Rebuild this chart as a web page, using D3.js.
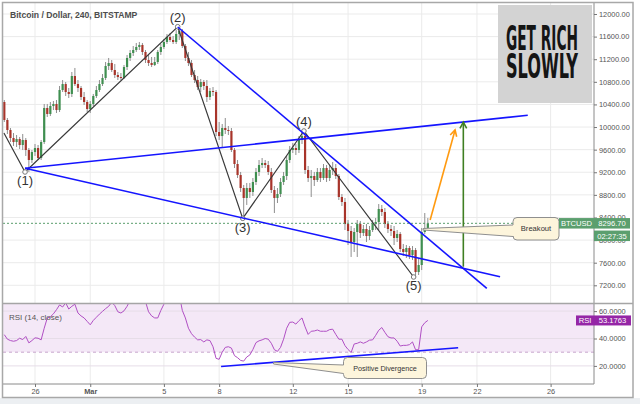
<!DOCTYPE html>
<html><head><meta charset="utf-8">
<script src="https://cdn.jsdelivr.net/npm/d3@7"></script>
<style>
html,body{margin:0;padding:0;background:#fff;}
svg{display:block;font-family:"Liberation Sans",Arial,sans-serif;}
</style></head><body>
<svg id="c" width="640" height="404"></svg>
<script>
// ---------------- DATA ----------------
const title = "Bitcoin / Dollar, 240, BITSTAMP";
const candleStart = "2018-02-24T08:00Z";
const candleHours = 4;
const opens = [10443,10125,9948,9806,9735,9788,9682,9771,9594,9417,
9558,9629,9452,9735,10337,10231,10372,10408,10301,10655,
10761,10620,10585,10903,10761,10691,10531,10443,10319,10408,
10549,10655,10761,10868,11080,11133,11009,10921,10885,10868,
11062,11222,11310,11363,11416,11452,11328,11186,11133,11098,
11151,11328,11416,11505,11593,11540,11505,11646,11699,11434,
11222,11133,10921,10832,10708,10797,10726,10531,10638,10620,
9912,9841,9983,9948,9930,9594,9346,9151,8921,8745,
8921,8851,9028,9205,9328,9364,9328,9205,8886,8745,
8815,9028,9134,9417,9594,9629,9594,9771,9841,9240,
9098,9134,9063,9205,9098,9275,9098,9240,9275,9134,
8762,8674,8284,8161,7966,8143,8284,8125,8196,8072,
8178,8284,8320,8550,8497,8284,8196,8161,8037,8108,
7842,7789,7860,7736,7824,7435,7559,8143,8214];
const highs = [10478,10160,9983,9894,9859,9824,9877,9806,9629,9594,
9700,9682,9771,10408,10408,10443,10461,10478,10726,10832,
10797,10691,10974,11045,10832,10726,10620,10478,10461,10585,
10726,10832,10938,11151,11222,11186,11115,10974,10956,11098,
11275,11363,11434,11487,11505,11487,11363,11275,11239,11239,
11363,11469,11558,11646,11664,11611,11717,11770,11735,11469,
11328,11186,11009,10903,10850,10832,10832,10691,10708,10655,
10089,10054,10160,10018,9983,9629,9417,9205,8975,9010,
9010,9098,9275,9417,9452,9417,9399,9275,8957,8921,
9098,9205,9488,9665,9718,9700,9841,9930,9912,9311,
9240,9205,9275,9275,9346,9328,9328,9381,9346,9169,
8815,8745,8355,8249,8214,8355,8338,8267,8284,8249,
8355,8391,8638,8621,8568,8338,8267,8249,8178,8143,
7931,7913,7895,7895,7860,7683,8214,8479,8391];
const lows = [10089,9877,9735,9665,9647,9611,9594,9488,9205,9364,
9488,9417,9417,9700,10178,10195,10301,10248,10266,10620,
10549,10514,10531,10726,10620,10478,10390,10266,10248,10372,
10514,10620,10726,10832,11009,10974,10868,10832,10832,10850,
11009,11168,11257,11328,11363,11275,11133,11080,11062,11080,
11115,11275,11381,11469,11505,11469,11469,11540,11398,11168,
11080,10885,10779,10655,10620,10655,10443,10478,10549,9841,
9771,9629,9877,9859,9558,9275,9098,8851,8391,8621,
8745,8780,8975,9134,9275,9275,9151,8833,8479,8656,
8762,8975,9063,9364,9541,9505,9541,9700,9169,9028,
8762,8957,9028,9028,9063,9028,9045,9151,9081,8709,
8603,8178,7913,7701,7789,7701,8037,8072,7966,8001,
8143,8178,8178,8426,8214,8125,8072,7913,7966,7789,
7718,7683,7665,7648,7347,7382,7470,8108,8196];
const closes = [10125,9948,9806,9735,9788,9682,9771,9594,9417,9558,
9629,9452,9735,10337,10231,10372,10408,10301,10655,10761,
10620,10585,10903,10761,10691,10531,10443,10319,10408,10549,
10655,10761,10868,11080,11133,11009,10921,10885,10868,11062,
11222,11310,11363,11416,11452,11328,11186,11133,11098,11151,
11328,11416,11505,11593,11540,11505,11646,11699,11434,11222,
11133,10921,10832,10708,10797,10726,10531,10638,10620,9912,
9841,9983,9948,9930,9594,9346,9151,8921,8745,8921,
8851,9028,9205,9328,9364,9328,9205,8886,8745,8815,
9028,9134,9417,9594,9629,9594,9771,9841,9240,9098,
9134,9063,9205,9098,9275,9098,9240,9275,9134,8762,
8674,8284,8161,7966,8143,8284,8125,8196,8072,8178,
8284,8320,8550,8497,8284,8196,8161,8037,8108,7842,
7789,7860,7736,7824,7435,7559,8143,8214,8296.7];
const rsiValues = [42.8,39.5,38.5,38,38.5,40.2,39.2,41.5,36.8,38.5,
40.5,40.2,39,47.5,55,55.8,58,61,64.5,63,
66,61.5,63.5,65,58.6,56.5,55,52.5,50,53.2,
55.5,57.8,59.8,61.8,63.5,66.5,64,59.5,58.6,60.2,
63.5,68,71,72.5,72,69.5,67,59.5,56.5,55,
55,60.5,65,68,70,69,71,72,60.5,55,
47.5,43.5,41,39,39.2,37.5,39,38.5,34,25.5,
24.8,30,33.5,34,33,27.5,26,24,23.5,26.5,
28,32,37,38.3,39,40,39.5,36.5,31.8,30.6,
33.5,39.5,47.5,51.8,52,50.5,53,55,48.5,43,
45.3,45.5,46.2,45.3,45.3,45.3,46.5,46.8,43,39.5,
39.5,34.8,32,29.8,36,36.5,37.5,36.5,37.5,38.8,
39,42.3,46,48,44.5,41.3,40.4,40.4,38,34.5,
35,35,35.5,37.5,31.8,31.8,48.5,51.5,53.18];
const priceTicks = [12000,11600,11200,10800,10400,10000,9600,9200,8800,8400,8000,7600,7200];
const rsiTicks = [60,40,20];
const rsiBand = [70,30];
const dateTicks = ["2018-02-26","2018-03-01","2018-03-05","2018-03-08","2018-03-12","2018-03-15","2018-03-19","2018-03-22","2018-03-26"];
const dateTickLabels = ["26","Mar","5","8","12","15","19","22","26"];
// Elliott wave pivots
const waveDates = ["2018-02-24T07:30Z","2018-02-25T11:00Z","2018-03-05T18:00Z","2018-03-09T06:45Z","2018-03-12T14:30Z","2018-03-18T13:30Z"];
const wavePrices = [9894,9205,11775,8385,9930,7347];
const waveLabels = ["","(1)","(2)","(3)","(4)","(5)"];
// blue trend lines: [startDate, startPrice, endDate, endPrice]
const upperChannel = ["2018-02-25T11:00Z",9270,"2018-03-24T18:15Z",10208];
const lowerChannel = ["2018-02-25T11:00Z",9270,"2018-03-23T06:10Z",7352];
const wedgeTop = ["2018-03-05T18:00Z",11770,"2018-03-22T12:50Z",7147];
const targetArrow = ["2018-03-21T06:15Z",7529,"2018-03-21T06:15Z",10085];
const projArrow = ["2018-03-19T11:00Z",8355,"2018-03-20T19:30Z",9948];
const rsiTrend = ["2018-03-08T02:30Z",19.6,"2018-03-20T23:30Z",33.2];
const breakoutTip = ["2018-03-19T01:50Z",8196];
const divergenceTip = ["2018-03-10T22:55Z",22.1];
const breakoutText = "Breakout";
const divergenceText = "Positive Divergence";
const lastPrice = 8296.70;
const lastRsi = 53.1763;
const symbol = "BTCUSD";
const countdown = "02:27:35";
const rsiTitle = "RSI (14, close)";
const logoLines = ["GET RICH","SLOWLY"];

// ---------------- DRAW ----------------
const svg = d3.select("#c");
const X0 = 3, X1 = 594, RIGHT = 633, MT = 3, MB = 303, RT = 304, RB = 384;
const D = s => new Date(s);
const x = d3.scaleUtc().domain([D("2018-02-26T00:00Z"), D("2018-03-19T00:00Z")]).range([35, 421.7]);
const y = d3.scaleLinear().domain([7200, 12000]).range([285.3, 14]);
const yr = d3.scaleLinear().domain([20, 60]).range([365.9, 311.1]);
const t0 = D(candleStart).getTime();
const tAt = i => new Date(t0 + i * candleHours * 3600e3);

svg.append("rect").attr("width", 640).attr("height", 404).attr("fill", "#fff");
svg.append("rect").attr("x", 0).attr("y", 398).attr("width", 640).attr("height", 6).attr("fill", "#eceff2");

const defs = svg.append("defs");
defs.append("clipPath").attr("id", "cm").append("rect").attr("x", X0).attr("y", MT).attr("width", X1 - X0).attr("height", MB - MT);
defs.append("clipPath").attr("id", "cr").append("rect").attr("x", X0).attr("y", RT).attr("width", X1 - X0).attr("height", RB - RT);

const gm = svg.append("g").attr("clip-path", "url(#cm)");
const gr = svg.append("g").attr("clip-path", "url(#cr)");
const gridC = "#ebebeb";

// grids
gm.selectAll("line.hg").data(priceTicks).join("line")
  .attr("x1", X0).attr("x2", X1).attr("y1", d => y(d)).attr("y2", d => y(d))
  .attr("stroke", gridC).attr("stroke-width", 1);
[gm, gr].forEach(g => g.selectAll("line.vg").data(dateTicks).join("line")
  .attr("x1", d => x(D(d + "T00:00Z"))).attr("x2", d => x(D(d + "T00:00Z")))
  .attr("y1", 0).attr("y2", 404).attr("stroke", gridC).attr("stroke-width", 1));

// RSI band & grid
gr.append("rect").attr("x", X0).attr("width", X1 - X0)
  .attr("y", yr(rsiBand[0])).attr("height", yr(rsiBand[1]) - yr(rsiBand[0])).attr("fill", "#f4e8f7");
gr.selectAll("line.rg").data(rsiTicks).join("line")
  .attr("x1", X0).attr("x2", X1).attr("y1", d => yr(d)).attr("y2", d => yr(d))
  .attr("stroke", "#e6dde8").attr("stroke-width", 1);
gr.selectAll("line.rb").data(rsiBand).join("line")
  .attr("x1", X0).attr("x2", X1).attr("y1", d => yr(d)).attr("y2", d => yr(d))
  .attr("stroke", "#c7a6cc").attr("stroke-dasharray", "3,3").attr("stroke-width", 1);

// candles
const idx = d3.range(closes.length);
const upC = "#3f8f50", dnC = "#a8342a";
gm.selectAll("line.wick").data(idx).join("line")
  .attr("x1", i => x(tAt(i))).attr("x2", i => x(tAt(i)))
  .attr("y1", i => y(highs[i])).attr("y2", i => y(lows[i]))
  .attr("stroke", "#8e8e8e").attr("stroke-width", 1);
gm.selectAll("rect.body").data(idx).join("rect")
  .attr("x", i => x(tAt(i)) - 1.1).attr("width", 2.2)
  .attr("y", i => y(Math.max(opens[i], closes[i])))
  .attr("height", i => Math.max(1, Math.abs(y(opens[i]) - y(closes[i]))))
  .attr("fill", i => closes[i] >= opens[i] ? upC : dnC);

// last price dashed line
gm.append("line").attr("x1", X0).attr("x2", X1).attr("y1", y(lastPrice)).attr("y2", y(lastPrice))
  .attr("stroke", "#5a9e6c").attr("stroke-dasharray", "2,2").attr("stroke-width", 1);

// wave zigzag
const wpts = waveDates.map((d, i) => [x(D(d)), y(wavePrices[i])]);
gm.append("path").attr("d", d3.line()(wpts)).attr("fill", "none").attr("stroke", "#3a3a3a").attr("stroke-width", 1.2);
gm.selectAll("circle.wv").data(wpts.slice(1)).join("circle")
  .attr("cx", d => d[0]).attr("cy", d => d[1]).attr("r", 2.3)
  .attr("fill", "#fff").attr("stroke", "#777").attr("stroke-width", 1);

// blue lines
function seg(g, a, sc, color, w) {
  g.append("line").attr("x1", x(D(a[0]))).attr("y1", sc(a[1])).attr("x2", x(D(a[2]))).attr("y2", sc(a[3]))
    .attr("stroke", color).attr("stroke-width", w);
}
[upperChannel, lowerChannel, wedgeTop].forEach(a => seg(gm, a, y, "#1515ff", 1.6));

// arrows
function arrow(a, color) {
  const x1 = x(D(a[0])), y1 = y(a[1]), x2 = x(D(a[2])), y2 = y(a[3]);
  gm.append("line").attr("x1", x1).attr("y1", y1).attr("x2", x2).attr("y2", y2).attr("stroke", color).attr("stroke-width", 1.6);
  const ang = Math.atan2(y2 - y1, x2 - x1), L = 7, s = 0.5;
  const p1 = [x2 - L * Math.cos(ang - s), y2 - L * Math.sin(ang - s)];
  const p2 = [x2 - L * Math.cos(ang + s), y2 - L * Math.sin(ang + s)];
  gm.append("path").attr("d", `M${p1}L${x2},${y2}L${p2}`).attr("fill", "none").attr("stroke", color).attr("stroke-width", 1.6);
}
arrow(projArrow, "#ff9a10");
arrow(targetArrow, "#3f7f22");

// wave labels
gm.selectAll("text.wl").data(wpts.slice(1)).join("text")
  .attr("x", d => d[0]).attr("y", (d, i) => (i % 2 === 0) ? d[1] + 13.5 : d[1] - 4.5)
  .attr("text-anchor", "middle").attr("font-size", 13).attr("fill", "#333")
  .text((d, i) => waveLabels[i + 1]);

// RSI line
gr.append("path").attr("d", d3.line().x((v, i) => x(tAt(i))).y(v => yr(v))(rsiValues))
  .attr("fill", "none").attr("stroke", "#b04fc4").attr("stroke-width", 1);
seg(gr, rsiTrend, yr, "#1515ff", 1.6);

// callouts
function callout(g, tip, bx, by, bw, bh, wt, wb, text, fs) {
  const r = 4;
  const p = `M${bx + r},${by}H${bx + bw - r}Q${bx + bw},${by} ${bx + bw},${by + r}V${by + bh - r}Q${bx + bw},${by + bh} ${bx + bw - r},${by + bh}` +
    `H${bx + r}Q${bx},${by + bh} ${bx},${by + bh - r}V${wb}L${tip[0]},${tip[1] + 1}L${tip[0]},${tip[1] - 0.5}L${bx},${wt}V${by + r}Q${bx},${by} ${bx + r},${by}Z`;
  g.append("path").attr("d", p).attr("fill", "#fdf5dc").attr("stroke", "#8f8f8f").attr("stroke-width", 1);
  g.append("text").attr("x", bx + bw / 2).attr("y", by + bh / 2 + fs * 0.35).attr("text-anchor", "middle")
    .attr("font-size", fs).attr("fill", "#333").text(text);
}
callout(svg, [x(D(breakoutTip[0])), y(breakoutTip[1])], 513, 217.5, 46, 22.5, 225, 236.5, breakoutText, 7.6);
callout(svg, [x(D(divergenceTip[0])), yr(divergenceTip[1])], 343.5, 357.5, 83, 21, 365, 373.5, divergenceText, 7.2);

// logo
svg.append("rect").attr("x", 498).attr("y", 5).attr("width", 94).attr("height", 98).attr("fill", "#d3d3d3");
logoLines.forEach((t, i) => {
  const tx = svg.append("text").attr("x", 0).attr("y", 0)
    .attr("font-family", "'DejaVu Sans Condensed','DejaVu Sans',sans-serif").attr("font-weight", "bold")
    .attr("font-size", 33).attr("fill", "#151515").text(t);
  const w = tx.node().getComputedTextLength() || 72;
  tx.attr("transform", `translate(506,${50 + i * 28}) scale(${72 / w},1)`);
});

// title
svg.append("text").attr("x", 10).attr("y", 18).attr("font-size", 8.6).attr("font-weight", "bold").attr("fill", "#4d4d4d").text(title);
svg.append("text").attr("x", 9).attr("y", 320).attr("font-size", 8).attr("fill", "#555").text(rsiTitle);

// frame lines
svg.append("line").attr("x1", X1).attr("x2", X1).attr("y1", MT).attr("y2", RB).attr("stroke", "#8a8a8a");
svg.append("line").attr("x1", X0).attr("x2", RIGHT).attr("y1", 303.5).attr("y2", 303.5).attr("stroke", "#a5a5a5").attr("stroke-width", 1.5);
svg.append("line").attr("x1", X0).attr("x2", X1).attr("y1", RB).attr("y2", RB).attr("stroke", "#8a8a8a");
svg.append("rect").attr("x", 2.5).attr("y", 2.5).attr("width", RIGHT - 2.5).attr("height", 395).attr("fill", "none").attr("stroke", "#a8a8a8").attr("stroke-width", 1.5);

// axes
function styleAxis(g) {
  g.select(".domain").remove();
  g.selectAll(".tick line").attr("stroke", "#777");
  g.selectAll(".tick text").attr("fill", "#555").attr("font-size", 7.4).attr("font-family", "'Liberation Sans',Arial,sans-serif");
}
svg.append("g").attr("transform", `translate(${X1},0)`)
  .call(d3.axisRight(y).tickValues(priceTicks).tickFormat(d3.format(".2f")).tickSize(3).tickPadding(2)).call(styleAxis);
svg.append("g").attr("transform", `translate(${X1},0)`)
  .call(d3.axisRight(yr).tickValues(rsiTicks).tickFormat(d3.format(".4f")).tickSize(3).tickPadding(2)).call(styleAxis);
const gx = svg.append("g").attr("transform", `translate(0,${RB})`)
  .call(d3.axisBottom(x).tickValues(dateTicks.map(d => D(d + "T00:00Z"))).tickFormat((d, i) => dateTickLabels[i]).tickSize(3).tickPadding(2))
  .call(styleAxis);
gx.selectAll(".tick text").attr("font-weight", (d, i) => dateTickLabels[i] === "Mar" ? "bold" : "normal");

// price labels
const green = "#5b9f6e";
const ly = y(lastPrice);
function tag(xx, yy, w, h, fill, txt) {
  svg.append("rect").attr("x", xx).attr("y", yy - h / 2).attr("width", w).attr("height", h).attr("fill", fill);
  svg.append("text").attr("x", xx + w / 2).attr("y", yy + 2.7).attr("text-anchor", "middle")
    .attr("font-size", 7.6).attr("fill", "#fff").text(txt);
}
tag(559, ly, 35, 10.5, green, symbol);
tag(594, ly, 36, 10.5, green, d3.format(".2f")(lastPrice));
tag(594, ly + 12.5, 36, 10.5, green, countdown);
const ry = yr(lastRsi);
tag(576, ry, 18, 10, "#9526a6", "RSI");
tag(594, ry, 37, 10, "#9526a6", d3.format(".4f")(lastRsi));
</script>
</body></html>
